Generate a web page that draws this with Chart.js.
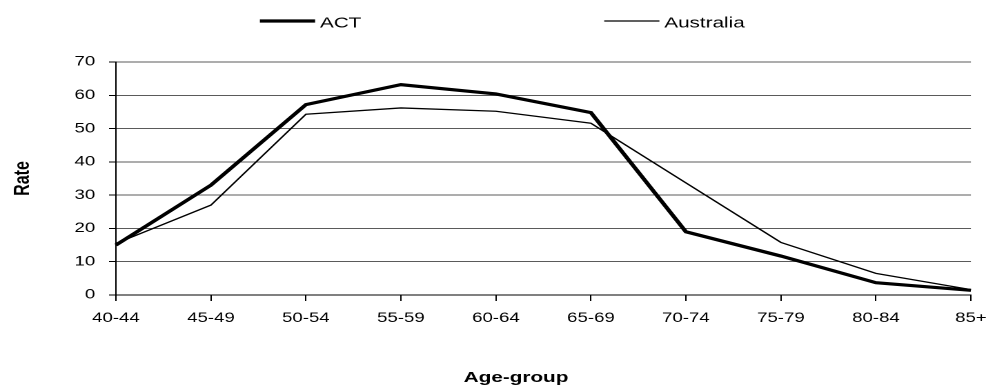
<!DOCTYPE html>
<html>
<head>
<meta charset="utf-8">
<script src="https://cdn.jsdelivr.net/npm/chart.js@4.4.1/dist/chart.umd.min.js"></script>
<style>
  html, body { margin: 0; padding: 0; background: #fff; overflow: hidden; }
  #stage { width: 999px; height: 390px; overflow: hidden; }
  /* the chart is laid out narrower and widened horizontally, giving the broad lettering */
  #wrap { position: relative; width: 724px; height: 390px; transform: scaleX(1.38); transform-origin: 0 0; }
</style>
</head>
<body>
<div id="stage"><div id="wrap"><canvas id="c"></canvas></div></div>
<script>
// Age groups along the horizontal axis
const ageGroups = ['40-44', '45-49', '50-54', '55-59', '60-64', '65-69', '70-74', '75-79', '80-84', '85+'];
// Rates per age group
const actRates = [15.0, 33.0, 57.2, 63.2, 60.4, 54.8, 19.0, 11.7, 3.7, 1.4];
const australiaRates = [15.5, 27.0, 54.3, 56.2, 55.2, 51.6, 33.7, 15.8, 6.5, 1.6];
// Vertical axis ticks
const rateTicks = [0, 10, 20, 30, 40, 50, 60, 70];
const xAxisCaption = 'Age-group';

const FONT = '"Liberation Sans", Arial, sans-serif';

// Legend drawn as line samples followed by the series name
const lineLegend = {
  id: 'lineLegend',
  afterDraw(chart, args, opts) {
    const ctx = chart.ctx;
    ctx.save();
    ctx.font = opts.size + 'px ' + FONT;
    ctx.textBaseline = 'middle';
    ctx.textAlign = 'left';
    const items = chart.data.datasets.map(ds => ({
      label: ds.label, w: ds.borderWidth, c: ds.borderColor,
      tw: ctx.measureText(ds.label).width
    }));
    const total = items.reduce((s, it) => s + opts.lineLength + opts.textGap + it.tw, 0)
      + opts.itemGap * (items.length - 1);
    let x = (chart.width - total) / 2 + opts.shift;
    for (const it of items) {
      ctx.beginPath();
      ctx.lineWidth = it.w;
      ctx.strokeStyle = it.c;
      ctx.moveTo(x, opts.lineY);
      ctx.lineTo(x + opts.lineLength, opts.lineY);
      ctx.stroke();
      x += opts.lineLength + opts.textGap;
      ctx.fillStyle = '#000';
      ctx.fillText(it.label, x, opts.textY);
      x += it.tw + opts.itemGap;
    }
    ctx.restore();
  }
};

// Horizontal axis caption, set slightly left of the plot centre
const axisCaption = {
  id: 'axisCaption',
  afterDraw(chart, args, opts) {
    const { ctx, chartArea } = chart;
    ctx.save();
    ctx.font = 'bold ' + opts.size + 'px ' + FONT;
    ctx.fillStyle = '#000';
    ctx.textAlign = 'center';
    ctx.textBaseline = 'middle';
    const x = chartArea.left + (chartArea.right - chartArea.left) * opts.at;
    ctx.fillText(opts.text, x, opts.y);
    ctx.restore();
  }
};

new Chart(document.getElementById('c'), {
  type: 'line',
  data: {
    labels: ageGroups,
    datasets: [
      { label: 'ACT', data: actRates, borderColor: '#000', borderWidth: 3.2, pointRadius: 0, tension: 0, fill: false },
      { label: 'Australia', data: australiaRates, borderColor: '#000', borderWidth: 1.3, pointRadius: 0, tension: 0, fill: false }
    ]
  },
  options: {
    responsive: true,
    maintainAspectRatio: false,
    animation: false,
    devicePixelRatio: 2,
    layout: { padding: { top: 62, right: 14, bottom: 0, left: 0 } },
    plugins: {
      legend: { display: false },
      tooltip: { enabled: false },
      lineLegend: { size: 15, lineLength: 40, textGap: 3.5, itemGap: 176, shift: 2, lineY: 21, textY: 23.5 },
      axisCaption: { text: xAxisCaption, size: 15, at: 0.468, y: 378 }
    },
    scales: {
      x: {
        type: 'category',
        offset: false,
        grid: { drawOnChartArea: false, drawTicks: true, tickLength: 6, color: '#000', tickColor: '#000' },
        border: { display: true, color: '#000', width: 1 },
        ticks: { color: '#000', font: { family: FONT, size: 13.5 }, padding: 9, maxRotation: 0, autoSkip: false },
        afterFit(scale) { scale.height = 95; }
      },
      y: {
        min: 0,
        max: 70,
        afterBuildTicks(scale) { scale.ticks = rateTicks.map(v => ({ value: v })); },
        grid: { color: '#5a5a5a', lineWidth: 1, drawTicks: true, tickLength: 5, tickColor: '#000' },
        border: { display: true, color: '#000', width: 1 },
        ticks: { color: '#000', font: { family: FONT, size: 13.5 }, padding: 10 },
        title: { display: true, text: 'Rate', color: '#000', font: { family: FONT, size: 16, weight: 'bold' }, padding: { top: 7, bottom: 0 } },
        afterFit(scale) { scale.width = 84; }
      }
    }
  },
  plugins: [lineLegend, axisCaption]
});
</script>
</body>
</html>
